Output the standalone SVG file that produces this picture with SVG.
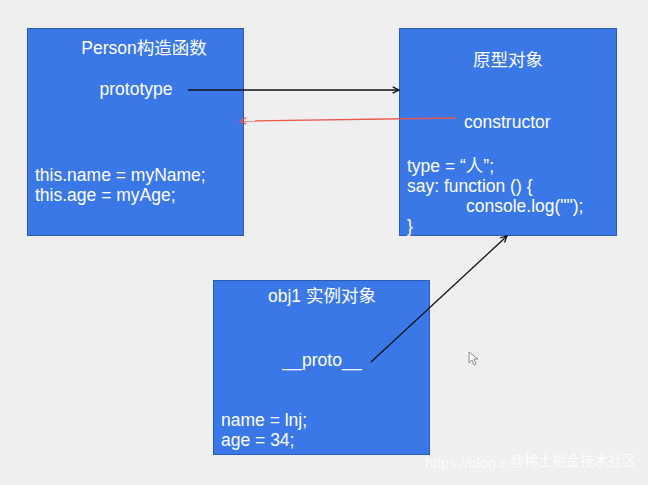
<svg xmlns="http://www.w3.org/2000/svg" width="648" height="485" viewBox="0 0 648 485">
<style>
.box{fill:#3b78e7;stroke:#2b5bb5;stroke-width:1}
.t{font-family:"Liberation Sans","Noto Sans CJK SC",Arial,sans-serif;font-size:17.5px;fill:#ffffff}
.c{text-anchor:middle}
.wm{font-family:"Liberation Sans","Noto Sans CJK SC",sans-serif;font-size:15px;fill:#ffffff;opacity:0.85}
</style>
<defs>
<marker id="ab" viewBox="0 0 10 10" refX="9" refY="5" markerWidth="9" markerHeight="9" orient="auto" markerUnits="userSpaceOnUse"><path d="M2,1.5 L9,5 L2,8.5" fill="none" stroke="#111111" stroke-width="1.4"/></marker>
<marker id="ar" viewBox="0 0 10 10" refX="9" refY="5" markerWidth="9" markerHeight="9" orient="auto" markerUnits="userSpaceOnUse"><path d="M2,1.5 L9,5 L2,8.5" fill="none" stroke="#e8574a" stroke-width="1.4"/></marker>
</defs>
<rect width="648" height="485" fill="#efefef"/>
<g id="person">
<rect class="box" x="27.5" y="28.5" width="216" height="207"/>
<text class="t c" x="144" y="54">Person构造函数</text>
<text class="t c" x="136" y="95">prototype</text>
<text class="t" x="35" y="181">this.name = myName;</text>
<text class="t" x="35" y="201">this.age = myAge;</text>
</g>
<g id="prototype">
<rect class="box" x="399.5" y="28.5" width="217" height="207"/>
<text class="t c" x="508" y="66">原型对象</text>
<text class="t" x="464" y="128">constructor</text>
<text class="t" x="407" y="172">type = “人”;</text>
<text class="t" x="407" y="192">say: function () {</text>
<text class="t" x="466" y="212">console.log("");</text>
<text class="t" x="407" y="232">}</text>
</g>
<g id="obj1">
<rect class="box" x="213.5" y="280.5" width="216" height="174"/>
<text class="t c" x="322" y="302">obj1 实例对象</text>
<text class="t c" x="322" y="366">__proto__</text>
<text class="t" x="221" y="426">name = lnj;</text>
<text class="t" x="221" y="446">age = 34;</text>
</g>
<g id="connectors">
<line x1="188" y1="90" x2="399" y2="90" stroke="#111111" stroke-width="1.3" marker-end="url(#ab)"/>
<line x1="456" y1="118" x2="240" y2="121" stroke="#e8574a" stroke-width="1.3" marker-end="url(#ar)"/>
<line x1="371" y1="362" x2="507" y2="236" stroke="#111111" stroke-width="1.3" marker-end="url(#ab)"/>
</g>
<path d="M469,352 L469,363 L472,360 L474,365 L476,364 L474,359 L478,359 Z" fill="#f5f5f5" stroke="#777777" stroke-width="0.8"/>
<text class="wm" x="425" y="468" textLength="82" lengthAdjust="spacingAndGlyphs">https://blog.c</text>
<text class="wm" x="510" y="466" textLength="126" lengthAdjust="spacingAndGlyphs">@稀土掘金技术社区</text>
</svg>
